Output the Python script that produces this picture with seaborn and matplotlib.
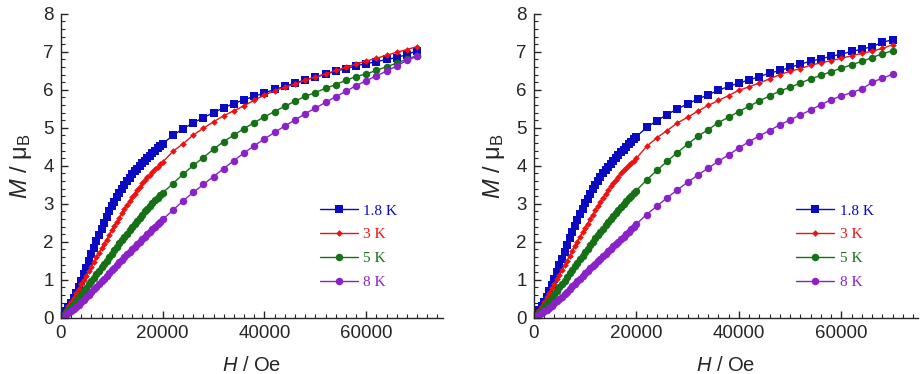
import matplotlib
matplotlib.use("Agg")
import matplotlib.pyplot as plt
import numpy as np
import pandas as pd
import seaborn as sns
from matplotlib.ticker import MultipleLocator

# field values (Oe): dense sweep up to 2 T, then 2 kOe steps
H_low = [0, 500, 1000, 1500, 2000, 2500, 3000, 3500, 4000, 4500,
         5000, 5500, 6000, 6500, 7000, 7500, 8000, 8500, 9000, 9500,
         10000, 10500, 11000, 11500, 12000, 12500, 13000, 13500, 14000, 14500,
         15000, 15500, 16000, 16500, 17000, 17500, 18000, 18500, 19000, 19500,
         20000]
H_high = [22000, 24000, 26000, 28000, 30000, 32000, 34000, 36000, 38000, 40000,
          42000, 44000, 46000, 48000, 50000, 52000, 54000, 56000, 58000, 60000,
          62000, 64000, 66000, 68000, 70000]

temps = ["1.8 K", "3 K", "5 K", "8 K"]

# left panel (M in muB)
left_1p8 = [0, 0.08, 0.18, 0.29, 0.40, 0.53, 0.66, 0.82, 0.98, 1.15,
            1.32, 1.50, 1.67, 1.85, 2.02, 2.19, 2.35, 2.51, 2.66, 2.80,
            2.94, 3.06, 3.18, 3.29, 3.40, 3.50, 3.60, 3.69, 3.78, 3.86,
            3.93, 4.00, 4.07, 4.14, 4.20, 4.27, 4.33, 4.40, 4.46, 4.52,
            4.58,
            4.80, 4.98, 5.13, 5.27, 5.40, 5.53, 5.64, 5.74, 5.83, 5.92,
            6.01, 6.09, 6.18, 6.26, 6.33, 6.41, 6.49, 6.56, 6.63, 6.69,
            6.74, 6.80, 6.85, 6.93, 7.03]
left_3 = [0, 0.10, 0.20, 0.31, 0.42, 0.53, 0.65, 0.76, 0.88, 0.99,
          1.11, 1.23, 1.35, 1.47, 1.59, 1.71, 1.83, 1.94, 2.06, 2.18,
          2.30, 2.41, 2.52, 2.64, 2.75, 2.86, 2.96, 3.07, 3.17, 3.27,
          3.36, 3.45, 3.54, 3.62, 3.70, 3.77, 3.84, 3.91, 3.97, 4.04,
          4.10,
          4.38, 4.58, 4.81, 4.99, 5.16, 5.32, 5.45, 5.58, 5.73, 5.86,
          5.98, 6.07, 6.15, 6.26, 6.34, 6.42, 6.51, 6.59, 6.68, 6.76,
          6.83, 6.91, 6.99, 7.06, 7.14]
left_5 = [0, 0.07, 0.14, 0.21, 0.29, 0.37, 0.45, 0.53, 0.62, 0.70,
          0.79, 0.88, 0.97, 1.06, 1.15, 1.24, 1.33, 1.42, 1.51, 1.60,
          1.69, 1.78, 1.87, 1.96, 2.05, 2.13, 2.22, 2.30, 2.39, 2.47,
          2.56, 2.64, 2.72, 2.80, 2.87, 2.95, 3.02, 3.09, 3.16, 3.23,
          3.29,
          3.53, 3.78, 4.01, 4.22, 4.44, 4.64, 4.81, 4.98, 5.14, 5.29,
          5.43, 5.57, 5.70, 5.83, 5.93, 6.04, 6.14, 6.25, 6.35, 6.42,
          6.51, 6.61, 6.70, 6.81, 6.90]
left_8 = [0, 0.04, 0.08, 0.13, 0.18, 0.23, 0.29, 0.35, 0.41, 0.47,
          0.54, 0.61, 0.68, 0.75, 0.82, 0.89, 0.96, 1.03, 1.10, 1.17,
          1.25, 1.32, 1.39, 1.46, 1.53, 1.60, 1.67, 1.74, 1.81, 1.87,
          1.94, 2.00, 2.07, 2.13, 2.20, 2.26, 2.33, 2.39, 2.46, 2.52,
          2.59,
          2.83, 3.08, 3.30, 3.51, 3.72, 3.93, 4.14, 4.34, 4.53, 4.71,
          4.88, 5.05, 5.21, 5.37, 5.52, 5.67, 5.82, 5.96, 6.11, 6.24,
          6.37, 6.49, 6.63, 6.78, 6.88]

# right panel
right_1p8 = [0, 0.09, 0.20, 0.31, 0.43, 0.56, 0.70, 0.86, 1.02, 1.20,
             1.38, 1.56, 1.74, 1.92, 2.09, 2.26, 2.42, 2.58, 2.73, 2.87,
             3.01, 3.14, 3.26, 3.38, 3.49, 3.60, 3.70, 3.80, 3.89, 3.98,
             4.06, 4.14, 4.21, 4.29, 4.36, 4.43, 4.50, 4.57, 4.64, 4.71,
             4.77,
             5.01, 5.19, 5.35, 5.50, 5.63, 5.76, 5.87, 5.99, 6.09, 6.18,
             6.26, 6.35, 6.44, 6.51, 6.59, 6.68, 6.75, 6.82, 6.88, 6.94,
             7.01, 7.07, 7.14, 7.25, 7.32]
right_3 = [0, 0.10, 0.20, 0.31, 0.42, 0.54, 0.66, 0.78, 0.90, 1.02,
           1.14, 1.26, 1.39, 1.51, 1.64, 1.76, 1.89, 2.01, 2.13, 2.25,
           2.37, 2.48, 2.60, 2.72, 2.83, 2.94, 3.05, 3.16, 3.26, 3.36,
           3.46, 3.55, 3.64, 3.72, 3.80, 3.88, 3.95, 4.02, 4.08, 4.14,
           4.20,
           4.51, 4.74, 4.93, 5.13, 5.28, 5.44, 5.59, 5.72, 5.85, 5.99,
           6.08, 6.18, 6.29, 6.40, 6.49, 6.56, 6.65, 6.71, 6.77, 6.83,
           6.90, 6.96, 7.02, 7.09, 7.19]
right_5 = [0, 0.07, 0.14, 0.21, 0.29, 0.37, 0.45, 0.53, 0.62, 0.71,
           0.80, 0.89, 0.98, 1.07, 1.17, 1.26, 1.36, 1.45, 1.54, 1.63,
           1.73, 1.82, 1.91, 2.00, 2.09, 2.18, 2.27, 2.35, 2.44, 2.52,
           2.61, 2.69, 2.77, 2.85, 2.93, 3.00, 3.08, 3.15, 3.22, 3.28,
           3.35,
           3.63, 3.88, 4.12, 4.35, 4.57, 4.78, 4.95, 5.14, 5.28, 5.43,
           5.57, 5.71, 5.84, 5.97, 6.07, 6.18, 6.29, 6.38, 6.48, 6.57,
           6.66, 6.75, 6.85, 6.95, 7.03]
right_8 = [0, 0.04, 0.08, 0.12, 0.17, 0.22, 0.27, 0.32, 0.38, 0.44,
           0.50, 0.56, 0.63, 0.69, 0.76, 0.83, 0.90, 0.96, 1.03, 1.10,
           1.17, 1.23, 1.30, 1.36, 1.43, 1.49, 1.56, 1.62, 1.69, 1.75,
           1.82, 1.88, 1.95, 2.01, 2.08, 2.14, 2.21, 2.27, 2.34, 2.40,
           2.47,
           2.72, 2.94, 3.16, 3.37, 3.57, 3.76, 3.94, 4.12, 4.29, 4.47,
           4.64, 4.79, 4.93, 5.08, 5.21, 5.34, 5.47, 5.61, 5.74, 5.84,
           5.93, 6.02, 6.20, 6.31, 6.41]

colors = ["#0a0ac0", "#ee1111", "#167016", "#8a22c8"]
markers = ["s", "D", "o", "o"]
msizes = [6.2, 3.4, 5.4, 5.4]

sns.set_style("ticks")
plt.rcParams["font.family"] = ["Liberation Sans", "DejaVu Sans"]
plt.rcParams["mathtext.fontset"] = "custom"
plt.rcParams["mathtext.rm"] = "Liberation Sans"
plt.rcParams["mathtext.it"] = "Liberation Sans:italic"

fig = plt.figure(figsize=(9.22, 3.74), dpi=100)
ax_left = fig.add_axes([0.066, 0.150, 0.414, 0.813])
ax_right = fig.add_axes([0.579, 0.150, 0.417, 0.813])

H_all = H_low + H_high
panels = [
    (ax_left, [left_1p8, left_3, left_5, left_8], 0.678),
    (ax_right, [right_1p8, right_3, right_5, right_8], 0.682),
]

for ax, series, leg_x in panels:
    for label, M, c, m, ms in zip(temps, series, colors, markers, msizes):
        df = pd.DataFrame({"H": H_all, "M": M})
        sns.lineplot(data=df, x="H", y="M", ax=ax, color=c, marker=m,
                     markersize=ms, markeredgewidth=0, linewidth=1.0,
                     sort=False, label=label)

    ax.set_xlim(0, 75000)
    ax.set_ylim(0, 8)
    ax.xaxis.set_major_locator(MultipleLocator(20000))
    ax.xaxis.set_minor_locator(MultipleLocator(2000))
    ax.yaxis.set_major_locator(MultipleLocator(1))
    ax.yaxis.set_minor_locator(MultipleLocator(0.2))
    ax.tick_params(which="both", direction="in", labelsize=13.5, pad=5)
    ax.tick_params(which="major", length=5, width=1)
    ax.tick_params(which="minor", length=3, width=0.8)
    sns.despine(ax=ax)
    for s in ["left", "bottom"]:
        ax.spines[s].set_linewidth(1.0)

    ax.set_xlabel(r"$\mathit{H}$ / Oe", fontsize=14.5, labelpad=10)
    ax.set_ylabel(r"$\mathit{M}$ / μ$_\mathrm{B}$", fontsize=17, labelpad=7)

    leg = ax.legend(loc="upper left", bbox_to_anchor=(leg_x, 0.375),
                    frameon=False, borderpad=0, borderaxespad=0,
                    handlelength=2.5, handletextpad=0.35, labelspacing=0.66,
                    prop={"family": "Liberation Serif", "size": 11})
    for txt, c in zip(leg.get_texts(), colors):
        txt.set_color(c)

fig.savefig("out.png", dpi=100)
